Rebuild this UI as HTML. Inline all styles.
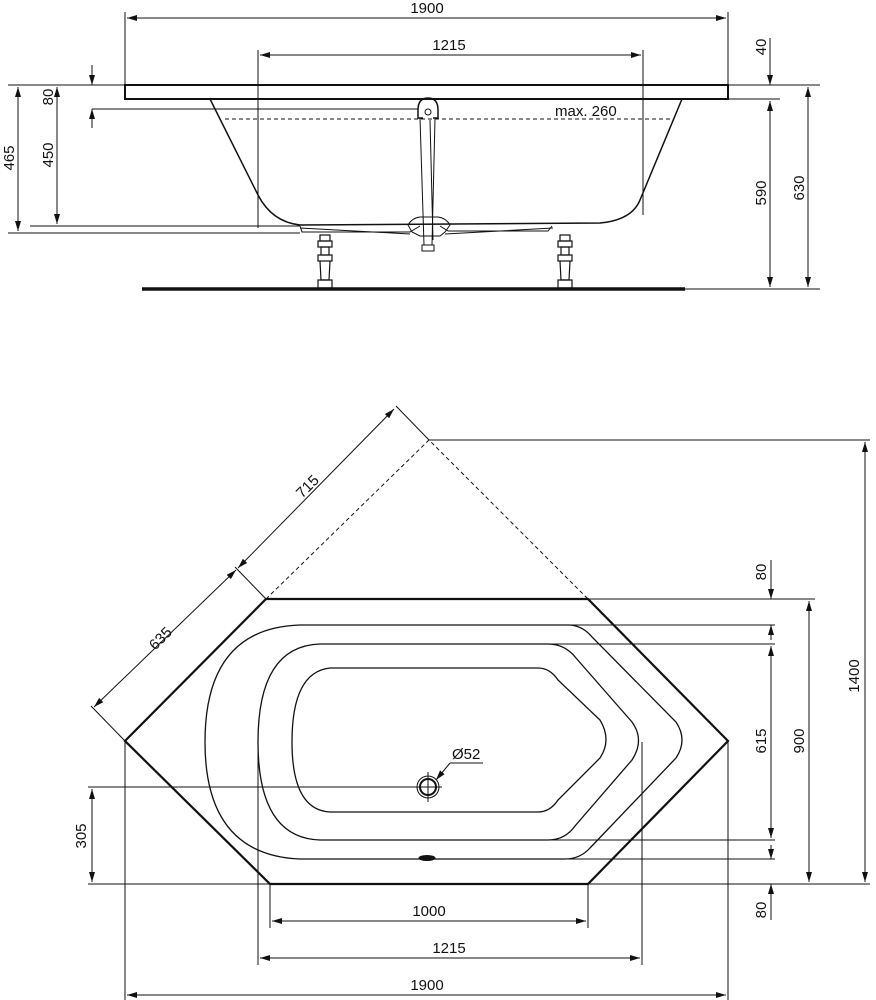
<!DOCTYPE html>
<html><head><meta charset="utf-8"><style>
html,body{margin:0;padding:0;background:#fff;width:876px;height:1000px;overflow:hidden}
svg{display:block}
text{font-family:"Liberation Sans",sans-serif;font-size:15px;fill:#111}
</style></head><body>
<svg width="876" height="1000" viewBox="0 0 876 1000" xmlns="http://www.w3.org/2000/svg">
<defs>
<marker id="a" viewBox="0 0 10 6" refX="10" refY="3" markerWidth="10" markerHeight="6" orient="auto-start-reverse" markerUnits="userSpaceOnUse"><path d="M0,0 L10,3 L0,6 z" fill="#111"/></marker>
</defs>
<g stroke="#111" fill="none" stroke-width="1">
<line x1="125" y1="12" x2="125" y2="85"/><line x1="728" y1="12" x2="728" y2="85"/>
<line x1="258" y1="50" x2="258" y2="228"/><line x1="643" y1="50" x2="643" y2="215"/>
<line x1="127" y1="18" x2="726" y2="18" marker-start="url(#a)" marker-end="url(#a)"/>
<line x1="260" y1="55" x2="641" y2="55" marker-start="url(#a)" marker-end="url(#a)"/>
<rect x="125" y="85" width="603" height="14" stroke-width="2"/>
<path d="M210,99 L258,195 Q272,222 300,225 L600,223 Q632,220 640,200 L682,99" stroke-width="1.5"/>
<line x1="225" y1="119" x2="672" y2="119" stroke-dasharray="4,3"/>
<path d="M300,226 L302,232 L410,232 L420,226 M440,226 L448,231 L548,231 L552,226"/>
<path d="M300,228 L410,234 M445,234 L553,228"/>
<path d="M408,225 Q412,218 420,217 L438,217 Q446,218 450,225 L445,232 L440,236 L420,236 L412,232 Z"/>
<path d="M418,110 Q418,98 428,98 Q438,98 438,110 L438,118 L433,118 M418,110 L418,118 L423,118" stroke-width="1.5"/>
<circle cx="428" cy="112" r="3"/>
<path d="M420,118 L424,245 L432,245 L435,118"/>
<line x1="430" y1="120" x2="433" y2="240"/>
<rect x="422" y="245" width="12" height="6"/>
<line x1="92" y1="109" x2="418" y2="109"/>
<g stroke-width="1.2">
<rect x="320" y="235" width="10" height="6"/><rect x="318" y="241" width="14" height="6"/>
<rect x="321" y="247" width="8" height="8"/><rect x="318" y="255" width="14" height="6"/>
<path d="M320,261 L321,280 L329,280 L330,261"/><rect x="318" y="280" width="14" height="8"/>
<rect x="560" y="235" width="10" height="6"/><rect x="558" y="241" width="14" height="6"/>
<rect x="561" y="247" width="8" height="8"/><rect x="558" y="255" width="14" height="6"/>
<path d="M560,261 L561,280 L569,280 L570,261"/><rect x="558" y="280" width="14" height="8"/>
</g>
<line x1="142" y1="289" x2="685" y2="289" stroke-width="3.5"/>
<line x1="8" y1="85" x2="125" y2="85"/>
<line x1="8" y1="233" x2="300" y2="233"/>
<line x1="30" y1="226" x2="300" y2="226"/>
<line x1="18" y1="87" x2="18" y2="231" marker-start="url(#a)" marker-end="url(#a)"/>
<line x1="57" y1="87" x2="57" y2="224" marker-start="url(#a)" marker-end="url(#a)"/>
<line x1="92" y1="65" x2="92" y2="85" marker-end="url(#a)"/>
<line x1="92" y1="128" x2="92" y2="109" marker-end="url(#a)"/>
<line x1="728" y1="85" x2="820" y2="85"/>
<line x1="728" y1="99" x2="780" y2="99"/>
<line x1="685" y1="289" x2="820" y2="289"/>
<line x1="770" y1="38" x2="770" y2="85" marker-end="url(#a)"/>
<line x1="770" y1="101" x2="770" y2="287" marker-start="url(#a)" marker-end="url(#a)"/>
<line x1="808" y1="87" x2="808" y2="287" marker-start="url(#a)" marker-end="url(#a)"/>

<path d="M266,599 L588,599 L728,741 L588,884 L270,884 L125,741 Z" stroke-width="2.2"/>
<path d="M266,599 L429,440 L588,599" stroke-dasharray="4,3"/>
<path d="M300,625 L568,625 Q582,625 592,637 L676,722 Q688,740 676,758 L590,848 Q580,859 565,859 L300,859 Q205,855 205,742 Q205,628 300,625 Z" stroke-width="1.3"/>
<path d="M320,644 L548,644 Q565,644 576,658 L632,722 Q645,740 632,760 L575,826 Q565,840 548,840 L320,840 Q258,838 258,742 Q258,646 320,644 Z" stroke-width="1.3"/>
<path d="M330,668 L538,668 Q550,668 558,680 L600,720 Q612,740 600,758 L558,800 Q550,812 538,812 L330,812 Q292,810 292,742 Q292,672 330,668 Z" stroke-width="1.3"/>
<circle cx="428" cy="787" r="11"/><circle cx="428" cy="787" r="8" stroke-width="2"/>
<line x1="428" y1="772" x2="428" y2="802"/>
<line x1="88" y1="787" x2="442" y2="787"/>
<line x1="483" y1="763" x2="450" y2="763"/>
<line x1="450" y1="763" x2="436" y2="780" marker-end="url(#a)"/>
<ellipse cx="427" cy="858" rx="8" ry="2.5" fill="#111"/>
<line x1="266" y1="599" x2="235" y2="567"/>
<line x1="429" y1="440" x2="396" y2="406"/>
<line x1="125" y1="741" x2="91" y2="706"/>
<line x1="238" y1="568" x2="394" y2="409" marker-start="url(#a)" marker-end="url(#a)"/>
<line x1="236" y1="570" x2="94" y2="707" marker-start="url(#a)" marker-end="url(#a)"/>
<line x1="429" y1="440" x2="870" y2="440"/>
<line x1="588" y1="599" x2="815" y2="599"/>
<line x1="568" y1="625" x2="775" y2="625"/>
<line x1="548" y1="644" x2="775" y2="644"/>
<line x1="548" y1="840" x2="775" y2="840"/>
<line x1="565" y1="859" x2="775" y2="859"/>
<line x1="88" y1="884" x2="870" y2="884"/>
<line x1="771" y1="560" x2="771" y2="599" marker-end="url(#a)"/>
<line x1="771" y1="640" x2="771" y2="625" marker-end="url(#a)"/>
<line x1="771" y1="646" x2="771" y2="838" marker-start="url(#a)" marker-end="url(#a)"/>
<line x1="771" y1="845" x2="771" y2="859" marker-end="url(#a)"/>
<line x1="771" y1="920" x2="771" y2="884" marker-end="url(#a)"/>
<line x1="809" y1="601" x2="809" y2="882" marker-start="url(#a)" marker-end="url(#a)"/>
<line x1="865" y1="442" x2="865" y2="882" marker-start="url(#a)" marker-end="url(#a)"/>
<line x1="92" y1="789" x2="92" y2="882" marker-start="url(#a)" marker-end="url(#a)"/>
<line x1="125" y1="741" x2="125" y2="1000"/><line x1="728" y1="741" x2="728" y2="1000"/>
<line x1="258" y1="742" x2="258" y2="965"/><line x1="642" y1="742" x2="642" y2="965"/>
<line x1="270" y1="884" x2="270" y2="928"/><line x1="588" y1="884" x2="588" y2="928"/>
<line x1="272" y1="921" x2="586" y2="921" marker-start="url(#a)" marker-end="url(#a)"/>
<line x1="260" y1="958" x2="640" y2="958" marker-start="url(#a)" marker-end="url(#a)"/>
<line x1="127" y1="995" x2="726" y2="995" marker-start="url(#a)" marker-end="url(#a)"/>
</g>
<text x="427" y="13" text-anchor="middle">1900</text>
<text x="449" y="50" text-anchor="middle">1215</text>
<text x="555" y="116">max. 260</text>
<text transform="translate(14,158) rotate(-90)" text-anchor="middle">465</text>
<text transform="translate(53,155) rotate(-90)" text-anchor="middle">450</text>
<text transform="translate(53,97) rotate(-90)" text-anchor="middle">80</text>
<text transform="translate(766,47) rotate(-90)" text-anchor="middle">40</text>
<text transform="translate(766,193) rotate(-90)" text-anchor="middle">590</text>
<text transform="translate(804,188) rotate(-90)" text-anchor="middle">630</text>
<text transform="translate(311,490) rotate(-45)" text-anchor="middle">715</text>
<text transform="translate(164,642) rotate(-45)" text-anchor="middle">635</text>
<text x="452" y="759">Ø52</text>
<text transform="translate(766,572) rotate(-90)" text-anchor="middle">80</text>
<text transform="translate(766,741) rotate(-90)" text-anchor="middle">615</text>
<text transform="translate(804,741) rotate(-90)" text-anchor="middle">900</text>
<text transform="translate(859,676) rotate(-90)" text-anchor="middle">1400</text>
<text transform="translate(766,910) rotate(-90)" text-anchor="middle">80</text>
<text transform="translate(86,836) rotate(-90)" text-anchor="middle">305</text>
<text x="429" y="916" text-anchor="middle">1000</text>
<text x="449" y="953" text-anchor="middle">1215</text>
<text x="427" y="990" text-anchor="middle">1900</text>
</svg>
</body></html>
